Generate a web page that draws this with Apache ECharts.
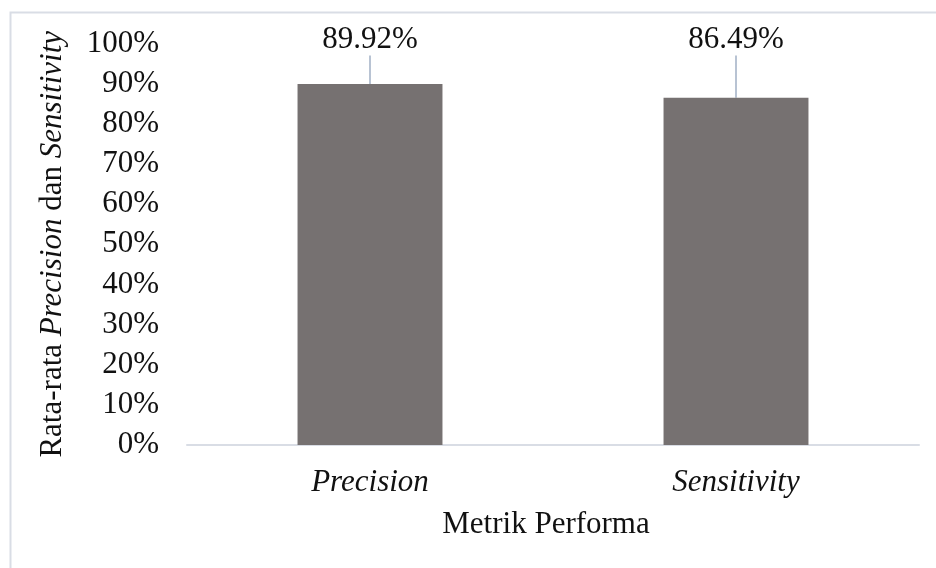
<!DOCTYPE html>
<html>
<head>
<meta charset="utf-8">
<script src="https://cdn.jsdelivr.net/npm/echarts@6/dist/echarts.min.js"></script>
<style>
  html, body { margin: 0; padding: 0; background: #fff; }
  #chart { width: 936px; height: 568px; }
</style>
</head>
<body>
<div id="chart"></div>
<script>
// Average precision / sensitivity per metric
const categories = ['Precision', 'Sensitivity'];
const values = [89.92, 86.49];
const yTicks = [0, 10, 20, 30, 40, 50, 60, 70, 80, 90, 100];

const serif = '"Liberation Serif", "Times New Roman", serif';
const fs = 31;
const chart = echarts.init(document.getElementById('chart'), null, { renderer: 'canvas' });

chart.setOption({
  backgroundColor: '#ffffff',
  animation: false,
  graphic: [{
    type: 'rect',
    shape: { x: 10.5, y: 12.5, width: 940, height: 580 },
    style: { fill: 'none', stroke: '#d9dde5', lineWidth: 2 },
    silent: true
  }],
  grid: { left: 187, right: 17, top: 43.5, bottom: 123 },
  xAxis: {
    type: 'category',
    data: categories,
    axisLine: { lineStyle: { color: '#d9dde5', width: 2 } },
    axisTick: { show: false },
    axisLabel: {
      margin: 22,
      fontFamily: serif, fontSize: fs, fontStyle: 'italic', color: '#111'
    },
    name: 'Metrik Performa',
    nameLocation: 'middle',
    nameGap: 64,
    nameTextStyle: { fontFamily: serif, fontSize: fs, color: '#111', padding: [0, 14, 0, 0] }
  },
  yAxis: {
    type: 'value',
    min: yTicks[0],
    max: yTicks[yTicks.length - 1],
    interval: 10,
    splitLine: { show: false },
    axisLine: { show: false },
    axisTick: { show: false },
    axisLabel: {
      margin: 28,
      formatter: '{value}%',
      fontFamily: serif, fontSize: fs, color: '#111'
    },
    name: '{n|Rata-rata }{i|Precision}{n| dan }{i|Sensitivity}',
    nameLocation: 'middle',
    nameRotate: 90,
    nameGap: 119,
    nameTextStyle: {
      rich: {
        n: { fontFamily: serif, fontSize: fs, color: '#111' },
        i: { fontFamily: serif, fontSize: fs, color: '#111', fontStyle: 'italic' }
      }
    }
  },
  series: [{
    type: 'bar',
    data: values,
    barWidth: '39.6%',
    itemStyle: { color: '#767171' },
    label: {
      show: true,
      position: 'top',
      formatter: p => p.value.toFixed(2) + '%',
      fontFamily: serif, fontSize: fs, color: '#111',
      padding: [0, 0, 4, 0]
    },
    labelLayout: { y: 40, verticalAlign: 'middle', align: 'center' },
    labelLine: { show: true, lineStyle: { color: '#b8c3d3', width: 2 } }
  }]
});
</script>
</body>
</html>
